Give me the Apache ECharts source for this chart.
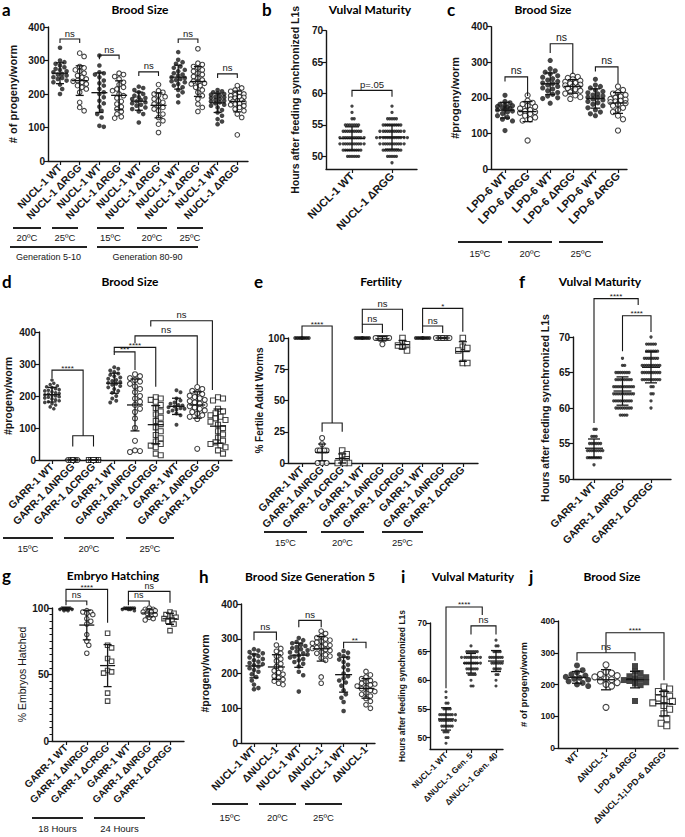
<!DOCTYPE html>
<html>
<head>
<meta charset="utf-8">
<script src="https://cdn.jsdelivr.net/npm/echarts@6/dist/echarts.min.js"></script>
<style>
  html, body { margin: 0; background: #fff; }
  #chart { width: 685px; height: 837px; }
</style>
</head>
<body>
<div id="chart"></div>
<script>
// ---------------- data ----------------
// a — Brood Size, NUCL-1
const aCats = ['NUCL-1 WT', 'NUCL-1 ΔRGG', 'NUCL-1 WT', 'NUCL-1 ΔRGG', 'NUCL-1 WT', 'NUCL-1 ΔRGG', 'NUCL-1 WT', 'NUCL-1 ΔRGG', 'NUCL-1 WT', 'NUCL-1 ΔRGG']
const aValues = [
  [338, 300, 295, 290, 285, 280, 275, 272, 268, 265, 260, 258, 255, 250, 248, 245, 240, 235, 228, 215, 200],
  [322, 312, 282, 278, 272, 268, 262, 255, 250, 245, 240, 238, 235, 230, 225, 220, 215, 205, 175, 160, 150],
  [315, 285, 265, 262, 258, 250, 240, 232, 225, 215, 205, 200, 190, 180, 172, 162, 150, 140, 130, 105, 102],
  [262, 258, 252, 245, 235, 228, 220, 215, 210, 200, 195, 188, 178, 170, 162, 155, 148, 140, 132, 128],
  [222, 218, 212, 205, 200, 195, 190, 188, 185, 182, 178, 175, 172, 168, 165, 160, 155, 148, 140, 115],
  [228, 210, 205, 200, 196, 192, 185, 180, 175, 170, 165, 160, 155, 150, 140, 130, 120, 110, 85],
  [325, 302, 295, 290, 282, 278, 272, 268, 262, 258, 255, 250, 248, 245, 242, 238, 235, 230, 225, 220, 212, 205, 195, 175],
  [335, 292, 288, 282, 278, 272, 268, 262, 258, 252, 248, 242, 238, 235, 232, 230, 225, 220, 212, 205, 195, 185, 170, 160, 148],
  [212, 208, 205, 202, 200, 198, 195, 192, 190, 188, 185, 182, 180, 178, 175, 172, 168, 165, 160, 152, 145, 135, 125, 118, 110],
  [225, 218, 212, 208, 205, 200, 198, 195, 192, 190, 188, 185, 182, 180, 178, 175, 172, 170, 168, 165, 160, 155, 150, 140, 130, 78]
]
// bracket: [from, to, bar, left end, right end, label]
const aBrackets = [[0, 1, 364, 352, 352, 'ns'], [2, 3, 316, 304, 304, 'ns'], [4, 5, 266, 254, 254, 'ns'], [6, 7, 364, 352, 352, 'ns'], [8, 9, 260, 248, 248, 'ns']]
const aTemps = ['20ºC', '25ºC', '15ºC', '20ºC', '25ºC']
const aGens = ['Generation 5-10', 'Generation 80-90']

// b — Vulval Maturity, counts of worms per hour
const bCats = ['NUCL-1 WT', 'NUCL-1 ΔRGG']
const bHours = [49, 50, 51, 52, 53, 54, 55, 56, 57, 58]
const bWT = [0, 6, 9, 11, 11, 9, 7, 2, 1, 1]
const bDRGG = [1, 5, 9, 11, 13, 11, 9, 5, 1, 1]
const bBrackets = [[0, 1, 60.5, 59.5, 59.5, 'p=.05']]

// c — Brood Size, LPD-6
const cCats = ['LPD-6 WT', 'LPD-6 ΔRGG', 'LPD-6 WT', 'LPD-6 ΔRGG', 'LPD-6 WT', 'LPD-6 ΔRGG']
const cValues = [
  [207, 190, 186, 182, 180, 178, 176, 174, 172, 170, 168, 166, 163, 160, 156, 150, 145, 140, 135, 108],
  [207, 192, 186, 182, 178, 175, 170, 166, 163, 160, 158, 155, 150, 145, 140, 136, 80],
  [305, 282, 276, 272, 268, 262, 258, 254, 250, 246, 242, 240, 236, 232, 228, 225, 220, 215, 210, 205, 200, 198, 185],
  [262, 259, 256, 252, 248, 245, 242, 240, 237, 235, 232, 230, 227, 224, 220, 216, 212, 207, 202, 197],
  [252, 236, 232, 228, 222, 218, 214, 211, 208, 205, 202, 200, 197, 194, 190, 186, 182, 178, 172, 166, 160, 155, 150],
  [232, 222, 216, 212, 208, 204, 200, 197, 195, 192, 190, 188, 185, 182, 178, 172, 166, 160, 150, 140, 108]
]
const cBrackets = [[0, 1, 259, 246, 205, 'ns'], [2, 3, 352, 326, 268, 'ns'], [4, 5, 287, 274, 240, 'ns']]
const cTemps = ['15ºC', '20ºC', '25ºC']

// d — Brood Size, GARR-1
const dCats = ['GARR-1 WT', 'GARR-1 ΔNRGG', 'GARR-1 ΔCRGG', 'GARR-1 WT', 'GARR-1 ΔNRGG', 'GARR-1 ΔCRGG', 'GARR-1 WT', 'GARR-1 ΔNRGG', 'GARR-1 ΔCRGG']
const dValues = [
  [250, 240, 236, 232, 229, 226, 223, 220, 218, 216, 213, 210, 208, 206, 204, 202, 200, 198, 196, 194, 191, 188, 185, 182, 180, 176, 172, 166, 160],
  [0, 0, 0, 0, 0, 0, 0, 0, 0, 0, 0, 0, 0, 0, 0, 0, 0, 0],
  [0, 0, 0, 0, 0, 0, 0, 0, 0, 0, 0, 0, 0, 0, 0, 0, 0, 0],
  [290, 285, 280, 275, 270, 266, 262, 258, 254, 250, 247, 244, 241, 238, 235, 231, 227, 222, 216, 210, 200, 192, 185, 180],
  [268, 262, 256, 250, 245, 238, 230, 222, 212, 200, 192, 182, 172, 160, 150, 130, 100, 60, 30, 28, 25],
  [196, 192, 188, 182, 172, 162, 152, 142, 132, 122, 112, 102, 90, 78, 68, 58, 50, 45, 40, 20, 15],
  [218, 212, 192, 186, 180, 176, 172, 170, 167, 165, 162, 160, 158, 155, 150, 145, 140, 110],
  [228, 222, 216, 211, 206, 201, 197, 193, 188, 184, 180, 176, 172, 168, 164, 160, 155, 150, 145, 140, 135, 128, 35],
  [196, 192, 186, 160, 152, 146, 140, 135, 130, 125, 120, 110, 100, 90, 80, 70, 60, 55, 50, 45, 40, 30, 20]
]
const dBrackets = [
  [0, 1.5, 281, 256, 76, '****'], [1, 2, 76, 42, 42, ''],
  [3, 4, 338, 328, 281, '***'], [3, 5, 352, 338, 229, '****'],
  [4, 7, 388, 365, 236, 'ns'], [4.76, 7.73, 435, 417, 219, 'ns']
]
const dTemps = ['15ºC', '20ºC', '25ºC']

// e — Fertility
const eCats = dCats
const eValues = [
  [100, 100, 100, 100, 100, 100, 100, 100],
  [20, 15, 10, 10, 10, 10, 10, 0, 0, 0],
  [10, 7, 6, 3, 2, 0, 0, 0],
  [100, 100, 100, 100, 100, 100, 100, 100],
  [100, 100, 100, 100, 100, 100, 100, 95],
  [100, 96, 95, 94, 93, 90],
  [100, 100, 100, 100, 100, 100, 100, 100],
  [100, 100, 100, 100, 100, 100, 100, 100],
  [100, 93, 92, 90, 80, 80]
]
const eBrackets = [
  [0, 1.5, 109.6, 100.5, 32, '****'], [1, 2, 32, 25, 25, ''],
  [3, 4, 111, 104, 104, 'ns'], [3, 5, 123, 111, 106, 'ns'],
  [6, 7, 109.6, 104, 104, 'ns'], [6, 8, 123.7, 109.6, 105, '*']
]
const eTemps = ['15ºC', '20ºC', '25ºC']

// f — Vulval Maturity, GARR-1 (counts per hour)
const fCats = ['GARR-1 WT', 'GARR-1 ΔNRGG', 'GARR-1 ΔCRGG']
const fHours = [52, 53, 54, 55, 56, 57, 58, 59, 60, 61, 62, 63, 64, 65, 66, 67, 68, 69, 70]
const fWT = [1, 7, 8, 6, 3, 2, 0, 0, 0, 0, 0, 0, 0, 0, 0, 0, 0, 0, 0]
const fDNRGG = [0, 0, 0, 0, 0, 0, 0, 4, 8, 9, 10, 10, 8, 7, 2, 1, 0, 0, 0]
const fDCRGG = [0, 0, 0, 0, 0, 0, 0, 0, 1, 1, 2, 2, 9, 9, 9, 7, 6, 5, 1]
const fBrackets = [[0, 1.55, 75.4, 57.9, 74.5, '****'], [1, 2, 73, 68, 70.7, '****']]

// g — Embryo Hatching
const gCats = ['GARR-1 WT', 'GARR-1 ΔNRGG', 'GARR-1 ΔCRGG', 'GARR-1 WT', 'GARR-1 ΔNRGG', 'GARR-1 ΔCRGG']
const gValues = [
  [100, 100, 100, 100, 100, 99, 99, 99, 98, 98],
  [98, 97, 97, 96, 95, 92, 90, 88, 80, 75, 72, 66],
  [81, 72, 70, 62, 60, 53, 52, 51, 36, 30],
  [100, 100, 100, 100, 100, 100, 99, 99, 99, 98],
  [100, 99, 99, 98, 98, 97, 97, 96, 95, 93, 92, 91],
  [97, 96, 95, 94, 93, 92, 91, 90, 88, 83]
]
const gBrackets = [[0, 2, 114, 105.3, 89, '****'], [0, 1, 105.3, 102, 102, 'ns'], [3, 5, 112.5, 105.3, 104, 'ns'], [3, 4, 105.3, 102, 102, 'ns']]
const gTimes = ['18 Hours', '24 Hours']

// h — Brood Size Generation 5
const hCats = ['NUCL-1 WT', 'ΔNUCL-1', 'NUCL-1 WT', 'ΔNUCL-1', 'NUCL-1 WT', 'ΔNUCL-1']
const hValues = [
  [270, 266, 262, 258, 254, 250, 246, 242, 238, 234, 230, 227, 224, 220, 215, 210, 205, 198, 190, 180, 168, 158, 155],
  [282, 272, 264, 258, 250, 242, 236, 228, 220, 214, 208, 203, 198, 193, 188, 183, 178, 172, 168],
  [302, 296, 291, 287, 283, 279, 276, 273, 270, 267, 264, 261, 258, 255, 252, 249, 246, 242, 238, 233, 228, 220, 205, 195, 148],
  [322, 315, 308, 303, 299, 296, 293, 290, 287, 284, 281, 278, 275, 272, 269, 266, 262, 258, 254, 250, 245, 238, 190, 172],
  [265, 260, 255, 250, 245, 240, 233, 225, 218, 210, 200, 192, 186, 180, 174, 165, 152, 140, 130, 118, 92],
  [206, 196, 190, 185, 180, 176, 172, 170, 167, 164, 160, 156, 152, 148, 144, 140, 135, 128, 120, 110, 100]
]
const hBrackets = [[0, 1, 319, 296, 296, 'ns'], [2, 3, 353, 333, 333, 'ns'], [4, 5, 290, 273, 273, '**']]
const hTemps = ['15ºC', '20ºC', '25ºC']

// i — Vulval Maturity, NUCL-1 (counts per hour)
const iCats = ['NUCL-1 WT', 'ΔNUCL-1 Gen. 5', 'ΔNUCL-1 Gen. 40']
const iHours = [49, 50, 51, 52, 53, 54, 55, 56, 57, 58, 59, 60, 61, 62, 63, 64, 65, 66, 67]
const iWT = [1, 2, 3, 6, 8, 8, 4, 2, 1, 1, 0, 0, 0, 0, 0, 0, 0, 0, 0]
const iGen5 = [0, 0, 0, 0, 0, 0, 0, 0, 0, 0, 2, 1, 4, 6, 8, 9, 6, 1, 0]
const iGen40 = [0, 0, 0, 0, 0, 0, 0, 0, 0, 0, 1, 1, 2, 4, 6, 7, 4, 2, 1]
const iBrackets = [[0, 1.45, 72.8, 58.6, 71.4, '****'], [1, 2, 69.5, 68, 68, 'ns']]

// j — Brood Size, double mutant
const jCats = ['WT', 'ΔNUCL-1', 'LPD-6 ΔRGG', 'ΔNUCL-1;LPD-6 ΔRGG']
const jValues = [
  [260, 245, 238, 232, 228, 224, 221, 218, 215, 210, 205, 200, 195],
  [262, 240, 236, 232, 228, 224, 219, 215, 211, 206, 200, 195, 128],
  [258, 240, 236, 226, 223, 220, 217, 214, 211, 207, 203, 198, 148],
  [192, 186, 178, 172, 163, 157, 152, 147, 142, 134, 122, 108, 92, 78, 70]
]
const jBrackets = [[0, 2, 300, 275, 275, 'ns'], [1, 3, 363, 300, 213, '****']]

// ---------------- helpers ----------------
const INK = '#161616'
const SANS = '"Liberation Sans", Arial, sans-serif'
const HEAD = 'Lato, "Open Sans", sans-serif'

function expand(hours, counts) {
  const out = []
  hours.forEach((h, i) => { for (let k = 0; k < counts[i]; k++) out.push(h) })
  return out
}
function mean(a) { return a.reduce((s, v) => s + v, 0) / a.length }
function sd(a) {
  const m = mean(a)
  return a.length > 1 ? Math.sqrt(a.reduce((s, v) => s + (v - m) * (v - m), 0) / (a.length - 1)) : 0
}

// beeswarm: horizontal pixel offset for each dot so they do not sit on each other
function swarm(vals, ppu, gap, maxHalf) {
  const order = vals.map((v, i) => i).sort((p, q) => vals[q] - vals[p])
  const placed = []
  const off = []
  order.forEach(i => {
    const y = vals[i] * ppu
    let best = 0, bestD = -1
    for (let k = 0; ; k++) {
      const dx = (k % 2 ? 1 : -1) * Math.ceil(k / 2) * gap / 2
      if (Math.abs(dx) > maxHalf) break
      let d = Infinity
      for (const p of placed) d = Math.min(d, Math.hypot(p[0] - dx, p[1] - y))
      if (d >= gap) { best = dx; break }
      if (d > bestD) { bestD = d; best = dx }
    }
    off[i] = best
    placed.push([best, y])
  })
  return off
}

const SHAPE = {
  fc: { symbol: 'circle', itemStyle: { color: INK } },
  oc: { symbol: 'circle', itemStyle: { color: '#fff', borderColor: INK, borderWidth: 1.1 } },
  fs: { symbol: 'rect', itemStyle: { color: INK } },
  os: { symbol: 'rect', itemStyle: { color: '#fff', borderColor: INK, borderWidth: 1.1 } }
}

const grids = [], xAxes = [], yAxes = [], series = [], graphics = []

function pick(v, i) { return Array.isArray(v) ? v[i] : v }

function addPanel(cats, values, brackets, L) {
  const gi = grids.length
  const n = cats.length
  const h = L.yBot - L.yTop
  grids.push({ left: L.x0, top: L.yTop, width: L.x1 - L.x0, height: h })
  grids.push({ left: L.t0 - L.dt / 2, top: L.yTop, width: n * L.dt, height: h })
  const xi = xAxes.length
  const yi = yAxes.length
  xAxes.push({
    type: 'value', gridIndex: gi, min: (L.x0 - L.t0) / L.dt, max: (L.x1 - L.t0) / L.dt,
    axisLine: { show: true, onZero: false, lineStyle: { color: INK, width: 1.4 } },
    axisTick: { show: false }, axisLabel: { show: false }, splitLine: { show: false }
  })
  xAxes.push({
    type: 'category', gridIndex: gi + 1, data: cats, boundaryGap: true,
    axisLine: { show: false },
    axisTick: { show: true, alignWithLabel: true, length: 4, lineStyle: { color: INK, width: 1.2 } },
    axisLabel: { rotate: 45, interval: 0, margin: 5, fontFamily: SANS, fontWeight: 'bold', fontSize: L.lab, color: INK },
    splitLine: { show: false }
  })
  const yAx = {
    type: 'value', gridIndex: gi, min: L.min, max: L.max,
    name: L.name, nameLocation: 'middle', nameGap: L.nameGap, nameRotate: 90,
    nameTextStyle: { fontFamily: SANS, fontWeight: L.nameWeight || 'bold', fontSize: L.nameSize, color: INK },
    axisLine: { show: true, onZero: false, lineStyle: { color: INK, width: 1.4 } },
    axisTick: { show: true, length: 4, lineStyle: { color: INK, width: 1.2 } },
    axisLabel: { margin: 3, fontFamily: SANS, fontWeight: 'bold', fontSize: L.tick || 10, color: INK },
    splitLine: { show: false }
  }
  if (L.ticks) {
    yAx.axisLabel.customValues = L.ticks
    yAx.axisTick.customValues = L.ticks
  } else {
    yAx.interval = L.step
  }
  if (L.minor) yAx.minorTick = { show: true, splitNumber: L.minor, length: 2.5, lineStyle: { color: INK, width: 1 } }
  yAxes.push(yAx)
  yAxes.push({ type: 'value', gridIndex: gi + 1, min: L.min, max: L.max, show: false })

  const ppu = h / (L.max - L.min)
  values.forEach((vals, i) => {
    const offs = swarm(vals, ppu, pick(L.gap, i), pick(L.maxHalf, i))
    const sh = SHAPE[pick(L.shapes, i)]
    series.push({
      type: 'scatter', xAxisIndex: xi, yAxisIndex: yi, silent: true, z: 3,
      symbol: sh.symbol, symbolSize: pick(L.dot, i), itemStyle: sh.itemStyle,
      data: vals.map((v, k) => ({ value: [i, v], symbolOffset: [offs[k], 0] }))
    })
  })

  // mean ± SD
  series.push({
    type: 'custom', xAxisIndex: xi, yAxisIndex: yi, silent: true, z: 5,
    data: values.map((v, i) => [i, mean(v), sd(v)]),
    renderItem(params, api) {
      const x = api.value(0), m = api.value(1), s = api.value(2)
      const pm = api.coord([x, m])
      const pt = api.coord([x, m + s])
      const pb = api.coord([x, Math.max(m - s, L.min)])
      const st = { stroke: INK, lineWidth: 1.3 }
      return {
        type: 'group', children: [
          { type: 'line', shape: { x1: pm[0] - L.meanW / 2, y1: pm[1], x2: pm[0] + L.meanW / 2, y2: pm[1] }, style: st },
          { type: 'line', shape: { x1: pt[0], y1: pt[1], x2: pb[0], y2: pb[1] }, style: st },
          { type: 'line', shape: { x1: pt[0] - L.sdW / 2, y1: pt[1], x2: pt[0] + L.sdW / 2, y2: pt[1] }, style: st },
          { type: 'line', shape: { x1: pb[0] - L.sdW / 2, y1: pb[1], x2: pb[0] + L.sdW / 2, y2: pb[1] }, style: st }
        ]
      }
    }
  })

  // significance brackets
  series.push({
    type: 'custom', xAxisIndex: xi, yAxisIndex: yi, silent: true, z: 6, clip: false,
    data: brackets.map(b => [b[0], b[2], b[1], b[3], b[4]]),
    renderItem(params, api) {
      const b = brackets[params.dataIndex]
      const p1 = api.coord([b[0], b[3]]), p2 = api.coord([b[0], b[2]])
      const p3 = api.coord([b[1], b[2]]), p4 = api.coord([b[1], b[4]])
      const kids = [{ type: 'polyline', shape: { points: [p1, p2, p3, p4] }, style: { stroke: INK, lineWidth: 1.1, fill: null } }]
      if (b[5]) {
        const star = b[5].indexOf('*') === 0
        kids.push({
          type: 'text', x: (p2[0] + p3[0]) / 2, y: p2[1] + (star ? 2 : -1),
          style: {
            text: b[5], fill: INK, fontFamily: SANS, fontSize: star ? 8 : (L.sigSize || 9.5),
            align: 'center', verticalAlign: 'bottom', textAlign: 'center', textVerticalAlign: 'bottom'
          }
        })
      }
      return { type: 'group', children: kids }
    }
  })
}

function heading(letter, lx, title, tx, y) {
  graphics.push({ type: 'text', x: lx, y: y, style: { text: letter, font: 'bold 17px ' + HEAD, fill: '#000', textAlign: 'left', textVerticalAlign: 'middle' } })
  graphics.push({ type: 'text', x: tx, y: y, style: { text: title, font: 'bold 12px ' + HEAD, fill: '#000', textAlign: 'center', textVerticalAlign: 'middle' } })
}
// underline groups: spans [x1, x2, lineY, textY]
function underline(labels, spans, size) {
  labels.forEach((t, i) => {
    const s = spans[i]
    graphics.push({ type: 'line', shape: { x1: s[0], y1: s[2], x2: s[1], y2: s[2] }, style: { stroke: '#222', lineWidth: 2 } })
    graphics.push({ type: 'text', x: (s[0] + s[1]) / 2, y: s[3], style: { text: t, font: (size || 9.5) + 'px ' + SANS, fill: INK, textAlign: 'center', textVerticalAlign: 'middle' } })
  })
}

// ---------------- panels ----------------
addPanel(aCats, aValues, aBrackets, {
  x0: 48, x1: 248, yTop: 27, yBot: 161, min: 0, max: 400, step: 100, t0: 60, dt: 19.7, lab: 10.5,
  shapes: ['fc', 'oc', 'fc', 'oc', 'fc', 'oc', 'fc', 'oc', 'fc', 'oc'], dot: 4.6, gap: 4.4, maxHalf: 8.5,
  meanW: 16, sdW: 8, name: '# of progeny/worm', nameGap: 30, nameSize: 11
})
addPanel(bCats, [expand(bHours, bWT), expand(bHours, bDRGG)], bBrackets, {
  x0: 326, x1: 417, yTop: 30.7, yBot: 169, min: 48, max: 70, ticks: [50, 55, 60, 65, 70], t0: 352, dt: 40, lab: 11,
  shapes: 'fc', dot: 3.3, gap: 2.2, maxHalf: 16, meanW: 26, sdW: 14,
  name: 'Hours after feeding synchronized L1s', nameGap: 26, nameSize: 10.5
})
addPanel(cCats, cValues, cBrackets, {
  x0: 491, x1: 627, yTop: 26.7, yBot: 169, min: 0, max: 400, step: 100, t0: 505, dt: 22.6, lab: 11,
  shapes: ['fc', 'oc', 'fc', 'oc', 'fc', 'oc'], dot: 5.2, gap: 5, maxHalf: 9.5,
  meanW: 18, sdW: 10, name: '#progeny/worm', nameGap: 31, nameSize: 11, sigSize: 10.5
})
addPanel(dCats, dValues, dBrackets, {
  x0: 39, x1: 232, yTop: 332, yBot: 460, min: 0, max: 400, step: 100, t0: 52, dt: 20.75, lab: 10.5,
  shapes: ['fc', 'oc', 'os', 'fc', 'oc', 'os', 'fc', 'oc', 'os'], dot: [3.6, 5, 5, 4, 5, 5, 4, 5, 5],
  gap: [3.6, 4.6, 4.6, 4, 5, 5, 4, 5, 5], maxHalf: [8, 6, 6, 8, 9, 9, 8, 9, 9],
  meanW: 16, sdW: 9, name: '#progeny/worm', nameGap: 26, nameSize: 10.5
})
addPanel(eCats, eValues, eBrackets, {
  x0: 288, x1: 478, yTop: 338, yBot: 463, min: 0, max: 100, step: 25, t0: 302, dt: 20.1, lab: 10.5,
  shapes: ['fc', 'oc', 'os', 'fc', 'oc', 'os', 'fc', 'oc', 'os'], dot: [4, 5, 5.5, 4, 5, 5.5, 4, 5, 5.5],
  gap: 4.5, maxHalf: 7, meanW: 14, sdW: 8, name: '% Fertile Adult Worms', nameGap: 23, nameSize: 10
})
addPanel(fCats, [expand(fHours, fWT), expand(fHours, fDNRGG), expand(fHours, fDCRGG)], fBrackets, {
  x0: 573, x1: 671, yTop: 337, yBot: 479, min: 50, max: 70, step: 5, t0: 594, dt: 28.5, lab: 10.5,
  shapes: 'fc', dot: 3.3, gap: 2.2, maxHalf: 11, meanW: 18, sdW: 12,
  name: 'Hours after feeding synchronized L1s', nameGap: 23, nameSize: 10.5
})
addPanel(gCats, gValues, gBrackets, {
  x0: 52, x1: 184, yTop: 608, yBot: 741, min: 0, max: 100, step: 50, minor: 10, t0: 66, dt: 20.8, lab: 10,
  shapes: ['fc', 'oc', 'os', 'fc', 'oc', 'os'], dot: [3.6, 4.5, 4.5, 3.6, 4.5, 4.5], gap: 4, maxHalf: 7.5,
  meanW: 15, sdW: 8, name: '% Embryos Hatched', nameWeight: 'normal', nameGap: 25, nameSize: 10.5, sigSize: 9
})
addPanel(hCats, hValues, hBrackets, {
  x0: 241, x1: 375, yTop: 604, yBot: 743, min: 0, max: 400, step: 100, t0: 254, dt: 22.4, lab: 10.5,
  shapes: ['fc', 'oc', 'fc', 'oc', 'fc', 'oc'], dot: 4.6, gap: 4.4, maxHalf: 9,
  meanW: 17, sdW: 9, name: '#progeny/worm', nameGap: 31, nameSize: 10.5
})
addPanel(iCats, [expand(iHours, iWT), expand(iHours, iGen5), expand(iHours, iGen40)], iBrackets, {
  x0: 430, x1: 503, yTop: 623, yBot: 749, min: 48, max: 70, ticks: [50, 55, 60, 65, 70], t0: 446, dt: 25, lab: 8.5,
  shapes: 'fc', dot: 3.1, gap: 2.1, maxHalf: 10, meanW: 16, sdW: 10, tick: 8.5,
  name: 'Hours after feeding synchronized L1s', nameGap: 24, nameSize: 8.5
})
addPanel(jCats, jValues, jBrackets, {
  x0: 558, x1: 678, yTop: 621, yBot: 748, min: 0, max: 400, step: 100, t0: 577, dt: 29, lab: 9,
  shapes: ['fc', 'oc', 'fs', 'os'], dot: 6, gap: 5.6, maxHalf: 12, tick: 8.5,
  meanW: 18, sdW: 10, name: '# of progeny/worm', nameGap: 30, nameSize: 9.5
})

// ---------------- headings and group bars ----------------
heading('a', 2, 'Brood Size', 140, 9)
heading('b', 262, 'Vulval Maturity', 370, 9)
heading('c', 447, 'Brood Size', 543, 9)
heading('d', 2, 'Brood Size', 130, 281)
heading('e', 254, 'Fertility', 381, 281)
heading('f', 519, 'Vulval Maturity', 600, 281)
heading('g', 2, 'Embryo Hatching', 113, 575)
heading('h', 199, 'Brood Size Generation 5', 310, 576)
heading('i', 401, 'Vulval Maturity', 473, 576)
heading('j', 529, 'Brood Size', 612, 576)

underline(aTemps, [[13, 41, 228, 237], [52, 78, 228, 237], [97, 124, 228, 237], [137, 167, 228, 237], [177, 203, 228, 237]])
underline(aGens, [[10, 87, 247, 257], [97, 198, 247, 257]], 9)
underline(cTemps, [[458, 502, 242, 253], [508, 552, 242, 253], [559, 603, 242, 253]])
underline(dTemps, [[3, 53, 538, 548], [64, 114, 538, 548], [126, 174, 538, 548]])
underline(eTemps, [[264, 307, 532, 542], [321, 364, 532, 542], [382, 423, 532, 542]])
underline(gTimes, [[32, 83, 818, 828], [94, 145, 818, 828]])
underline(hTemps, [[212, 248, 804, 817], [259, 296, 804, 817], [305, 342, 804, 817]])

const chart = echarts.init(document.getElementById('chart'), null, { renderer: 'svg' })
chart.setOption({
  backgroundColor: '#fff',
  animation: false,
  grid: grids,
  xAxis: xAxes,
  yAxis: yAxes,
  series: series,
  graphic: { elements: graphics }
})
</script>
</body>
</html>
